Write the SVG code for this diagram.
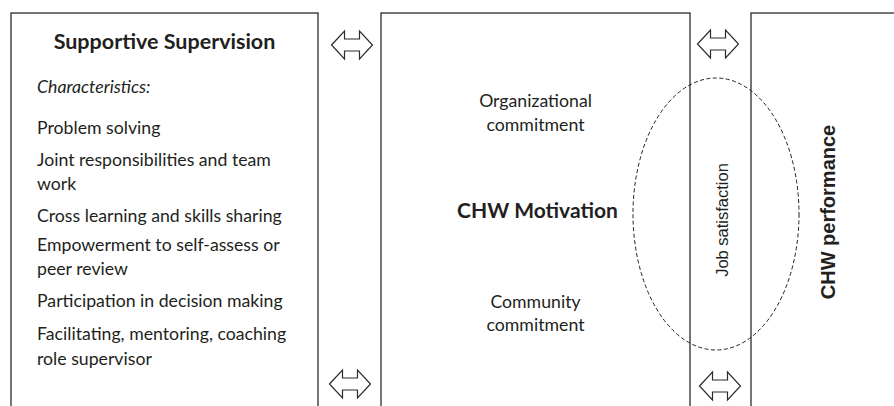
<svg xmlns="http://www.w3.org/2000/svg" width="894" height="406" viewBox="0 0 894 406">
<style>
.box{fill:#fff;stroke:#2b2b2b;stroke-width:1.3}
.arr{fill:#fff;stroke:#2b2b2b;stroke-width:1.2;stroke-linejoin:miter}
.t{font-family:Lato,"Open Sans","Liberation Sans",sans-serif;fill:#231f20;font-size:17.7px}
.b{font-weight:bold;font-size:21.5px}
.i{font-style:italic}
.m{text-anchor:middle}
.ar{font-family:"Liberation Sans",Arial,sans-serif;fill:#231f20}
.ell{fill:none;stroke:#231f20;stroke-width:1;stroke-dasharray:4 2.5}
</style>
<defs>
<path id="dbl" d="M-20.5,0 L-7.5,-14 L-7.5,-6 L7.5,-6 L7.5,-14 L20.5,0 L7.5,14 L7.5,6 L-7.5,6 L-7.5,14 Z"/>
</defs>
<rect width="894" height="406" fill="#fff"/>
<g id="supervision">
<rect class="box" x="11" y="13" width="307" height="420"/>
<text class="t b m" x="164.5" y="49">Supportive Supervision</text>
<text class="t i" x="37" y="93">Characteristics:</text>
<text class="t" x="37" y="134">Problem solving</text>
<text class="t" x="37" y="166">Joint responsibilities and team</text>
<text class="t" x="37" y="190">work</text>
<text class="t" x="37" y="222">Cross learning and skills sharing</text>
<text class="t" x="37" y="251">Empowerment to self-assess or</text>
<text class="t" x="37" y="275">peer review</text>
<text class="t" x="37" y="307">Participation in decision making</text>
<text class="t" x="37" y="340">Facilitating, mentoring, coaching</text>
<text class="t" x="37" y="365">role supervisor</text>
</g>
<g id="motivation">
<rect class="box" x="381" y="13" width="309" height="420"/>
<text class="t m" x="535.5" y="107">Organizational</text>
<text class="t m" x="535.5" y="131">commitment</text>
<text class="t b m" x="537.5" y="218" style="font-size:21px">CHW Motivation</text>
<text class="t m" x="535.5" y="308">Community</text>
<text class="t m" x="535.5" y="331">commitment</text>
</g>
<g id="performance">
<rect class="box" x="751" y="13" width="200" height="420"/>
<text class="ar m" font-size="20" font-weight="bold" transform="translate(835,212) rotate(-90)">CHW performance</text>
</g>
<g id="job-satisfaction">
<ellipse class="ell" cx="716" cy="214" rx="83" ry="136"/>
<text class="ar m" font-size="16.5" transform="translate(728,220) rotate(-90)">Job satisfaction</text>
</g>
<g id="connectors">
<use href="#dbl" class="arr" x="352" y="45"/>
<use href="#dbl" class="arr" x="718" y="44"/>
<use href="#dbl" class="arr" x="350" y="384"/>
<use href="#dbl" class="arr" x="720" y="386"/>
</g>
</svg>
